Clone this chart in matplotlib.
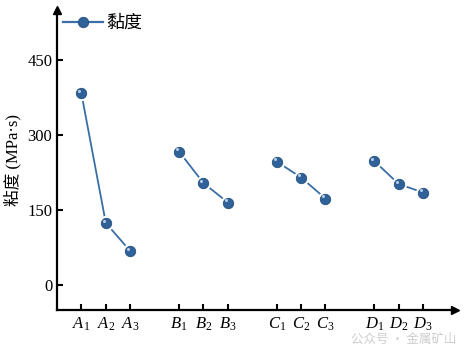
import matplotlib
matplotlib.use("Agg")
import matplotlib.pyplot as plt
import numpy as np

groups = ["A", "B", "C", "D"]
positions = [[1, 2, 3], [5, 6, 7], [9, 10, 11], [13, 14, 15]]
viscosity = [[383, 124, 68], [267, 204, 165], [247, 215, 173], [248, 202, 185]]
yticks = [0, 150, 300, 450]

plt.rcParams['mathtext.fontset'] = 'custom'
plt.rcParams['mathtext.rm'] = 'Liberation Serif'
plt.rcParams['mathtext.it'] = 'Liberation Serif:italic'
plt.rcParams['font.family'] = ['Liberation Serif', 'Noto Sans CJK SC']

fig = plt.figure(figsize=(4.68, 3.47), dpi=100)
ax = fig.add_axes([0.1218, 0.1066, 0.850, 0.8646])

line_c = '#3a6ea5'
mk_c = '#2f6299'
for pos, vals in zip(positions, viscosity):
    ax.plot(pos, vals, '-', color=line_c, lw=1.3, zorder=2)
    ax.plot(pos, vals, 'o', color='white', ms=10, mec='white', zorder=3)
    ax.plot(pos, vals, 'o', color=mk_c, ms=7.5, mec='#24507f', mew=0.6, zorder=4)
    ax.plot(pos, vals, 'o', color='#b8cde4', ms=2.2, mew=0, zorder=5,
            transform=ax.transData + matplotlib.transforms.ScaledTranslation(-1.5/72, 1.5/72, fig.dpi_scale_trans))

from matplotlib.lines import Line2D
h = Line2D([], [], color=line_c, lw=1.6, marker='o', ms=7.5, mfc=mk_c, mec='#24507f', mew=0.6)
ax.legend([h], ['黏度'], loc='center left', bbox_to_anchor=(63/468, 1 - 23/347),
          bbox_transform=fig.transFigure, frameon=False,
          handlelength=2.2, handletextpad=0.2, borderpad=0, borderaxespad=0,
          prop={'family': ['Noto Sans CJK SC'], 'size': 13})

ax.set_xlim(0, 16.3)
ax.set_ylim(-50, 550)
ax.set_yticks(yticks)
ax.set_yticklabels([str(v) for v in yticks], fontsize=12)
xt = [p for g in positions for p in g]
xl = [f'${g}_{i+1}$' for g in groups for i in range(3)]
ax.set_xticks(xt)
ax.set_xticklabels(xl, fontsize=12)
ax.tick_params(direction='in', length=4, width=1.5)
ax.tick_params(axis='x', pad=4)
for s in ['top', 'right']:
    ax.spines[s].set_visible(False)
for s in ['left', 'bottom']:
    ax.spines[s].set_linewidth(1.6)
ax.plot(1, 0, '>k', ms=6, transform=ax.transAxes, clip_on=False)
ax.plot(0, 1, '^k', ms=6, transform=ax.transAxes, clip_on=False)
ax.set_ylabel('粘度 (MPa·s)', fontsize=12, labelpad=4)

fig.text(0.975, 0.022, '公众号 · 金属矿山', ha='right', va='center', fontsize=9,
         color='#c8c8c8', family=['Noto Sans CJK SC'], alpha=0.9)

fig.savefig('out.png', dpi=100)
